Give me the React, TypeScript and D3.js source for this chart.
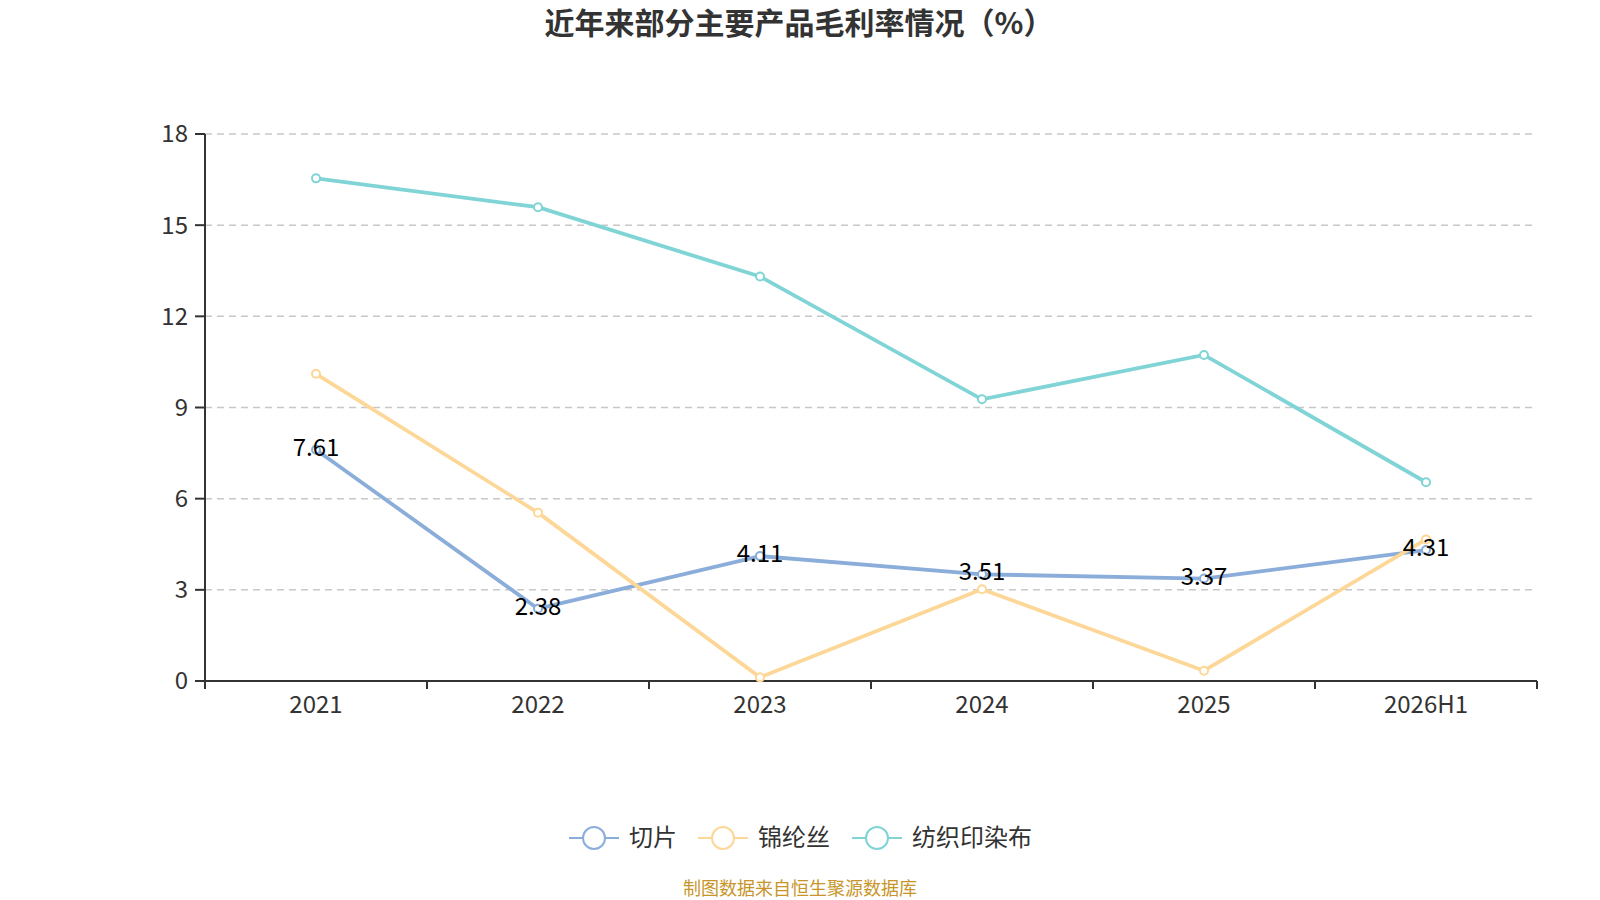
import * as d3 from 'd3';
import React from 'react';

const categories = ['2021', '2022', '2023', '2024', '2025', '2026H1'];
const qiepian = [7.61, 2.38, 4.11, 3.51, 3.37, 4.31];
const jinlunsi = [10.11, 5.54, 0.12, 3.02, 0.34, 4.66];
const fangzhi = [16.54, 15.59, 13.31, 9.27, 10.73, 6.54];
const yTicks = [0, 3, 6, 9, 12, 15, 18];

const seriesList = [
  { name: '切片', values: qiepian, color: '#8badd9', labels: true },
  { name: '锦纶丝', values: jinlunsi, color: '#fdd797', labels: false },
  { name: '纺织印染布', values: fangzhi, color: '#80d4d6', labels: false },
];

const font = "'Noto Sans CJK SC', 'Noto Sans', sans-serif";

function App() {
  const width = 1600;
  const height = 900;
  const left = 205, right = 1537, top = 134, bottom = 681;

  const x = d3.scaleBand<string>().domain(categories).range([left, right]);
  const y = d3.scaleLinear().domain([0, 18]).range([bottom, top]);
  const cx = (c: string) => (x(c) as number) + x.bandwidth() / 2;

  const line = d3.line<number>()
    .x((_, i) => cx(categories[i]))
    .y(d => y(d));

  const legendStarts = [569, 698, 852];
  const legendY = 838;

  return (
    <svg width={width} height={height} style={{ position: 'absolute', left: 0, top: 0, fontFamily: font }}>
      <text x={799} y={34} textAnchor="middle" fontSize={30} fontWeight="bold" fill="#333">
        近年来部分主要产品毛利率情况（%）
      </text>

      {/* grid */}
      {yTicks.filter(t => t > 0).map(t => (
        <line key={t} x1={left} x2={right} y1={y(t)} y2={y(t)} stroke="#c8c8c8" strokeWidth={1.5} strokeDasharray="7,5" />
      ))}

      {/* y axis */}
      <line x1={left} x2={left} y1={top} y2={bottom} stroke="#333" strokeWidth={2} />
      {yTicks.map(t => (
        <g key={t}>
          <line x1={left - 10} x2={left} y1={y(t)} y2={y(t)} stroke="#333" strokeWidth={2} />
          <text x={188} y={y(t)} dy="0.35em" textAnchor="end" fontSize={24} fill="#333">{t}</text>
        </g>
      ))}

      {/* x axis */}
      <line x1={left} x2={right} y1={bottom} y2={bottom} stroke="#333" strokeWidth={2} />
      {categories.map(c => (
        <line key={'t' + c} x1={(x(c) as number)} x2={(x(c) as number)} y1={bottom} y2={bottom + 8} stroke="#333" strokeWidth={2} />
      ))}
      <line x1={right} x2={right} y1={bottom} y2={bottom + 8} stroke="#333" strokeWidth={2} />
      {categories.map(c => (
        <text key={'l' + c} x={cx(c)} y={705} dy="0.35em" textAnchor="middle" fontSize={24} fill="#333">{c}</text>
      ))}

      {/* series */}
      {seriesList.map(s => (
        <g key={s.name}>
          <path d={line(s.values) || ''} fill="none" stroke={s.color} strokeWidth={3.8} />
          {s.values.map((v, i) => (
            <circle key={i} cx={cx(categories[i])} cy={y(v)} r={4} fill="#fff" stroke={s.color} strokeWidth={2} />
          ))}
        </g>
      ))}
      {seriesList.filter(s => s.labels).map(s => (
        <g key={'lab' + s.name}>
          {s.values.map((v, i) => (
            <text key={i} x={cx(categories[i])} y={y(v) + 6} textAnchor="middle" fontSize={24} fill="#000">{v.toFixed(2)}</text>
          ))}
        </g>
      ))}

      {/* legend */}
      {seriesList.map((s, i) => {
        const x0 = legendStarts[i];
        return (
          <g key={'lg' + s.name}>
            <line x1={x0} x2={x0 + 50} y1={legendY} y2={legendY} stroke={s.color} strokeWidth={2} />
            <circle cx={x0 + 25} cy={legendY} r={11} fill="#fff" stroke={s.color} strokeWidth={2} />
            <text x={x0 + 60} y={legendY} dy="0.35em" fontSize={24} fill="#333">{s.name}</text>
          </g>
        );
      })}

      <text x={800} y={889} dy="0.35em" textAnchor="middle" fontSize={18} fill="#c8952a">制图数据来自恒生聚源数据库</text>
    </svg>
  );
}

export default App;
